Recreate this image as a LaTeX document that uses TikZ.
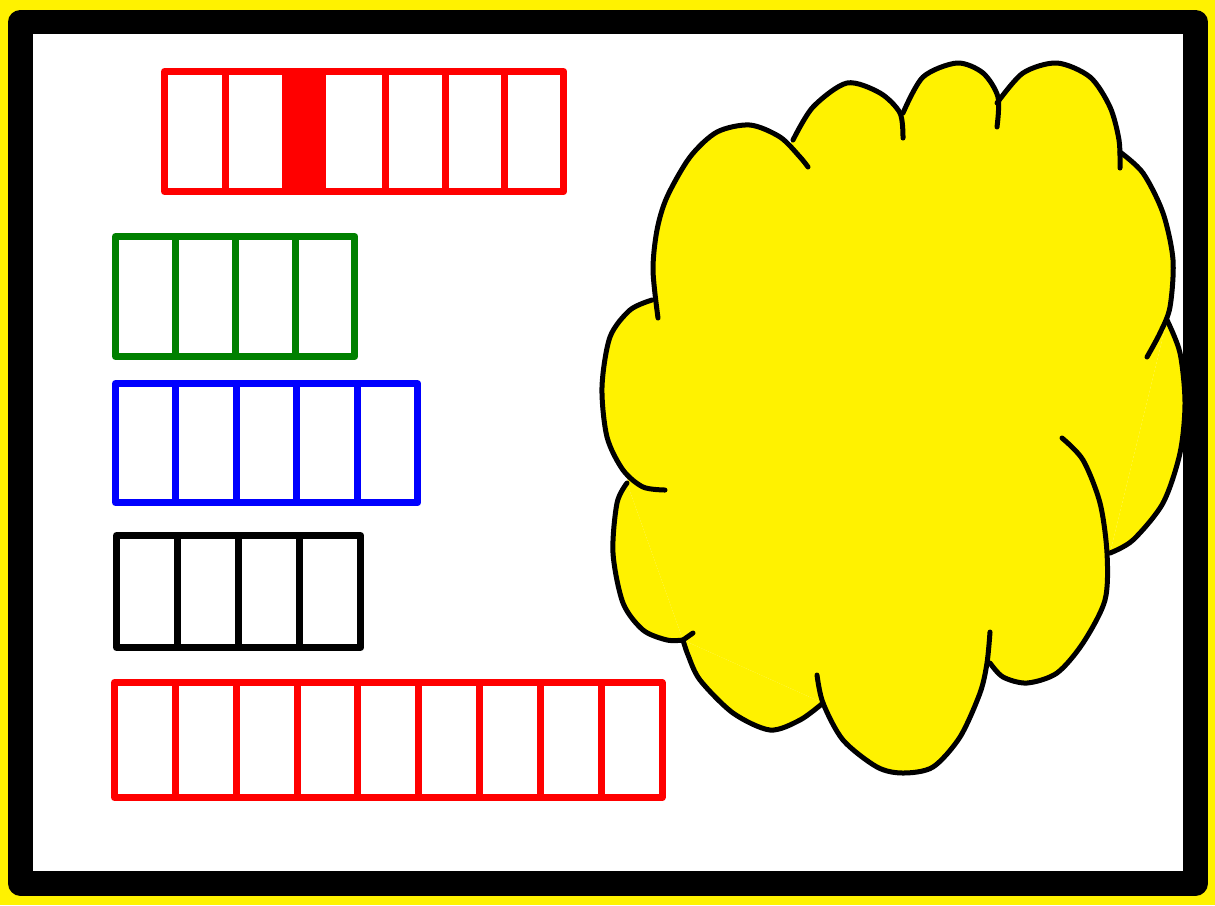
\documentclass[tikz,border=0pt]{standalone}
\usepackage{tikz}
\usetikzlibrary{positioning}

\begin{document}
\begin{tikzpicture}[x=0.01cm, y=-0.01cm,
  cell/.style={draw=#1, line width=0.07cm, line join=round, inner sep=0pt, outer sep=0pt, minimum width=6mm},
  lobe/.style={draw=black, line width=0.05cm, line cap=round}]
  \useasboundingbox (0,0) rectangle (1215,905);
  \fill[yellow] (0,0) rectangle (1215,905);
  \draw[fill=white, line width=2.45mm, line join=round] (20.5,22) rectangle (1195.5,883.5);

  % top row, one cell filled
  \node[cell=red, minimum width=6.05mm, minimum height=12mm, anchor=north west] (top1) at (164.5,71.5) {};
  \foreach \w [count=\i from 2, remember=\i as \j (initially 1)] in {6.0,3.7,6.3,6.0,5.9,5.95}
    \node[cell=red, minimum width=\w mm, minimum height=12mm, right=0pt of top\j] (top\i) {};
  \fill[red] (top3.north west) rectangle (top3.south east);

  % green row
  \node[cell=green!50!black, minimum width=5.98mm, minimum height=12mm, anchor=north west] (grn1) at (115.5,236.5) {};
  \foreach \i [remember=\i as \j (initially 1)] in {2,...,4}
    \node[cell=green!50!black, minimum width=5.98mm, minimum height=12mm, right=0pt of grn\j] (grn\i) {};

  % blue row
  \node[cell=blue, minimum width=6.04mm, minimum height=11.9mm, anchor=north west] (blu1) at (115.5,383.5) {};
  \foreach \i [remember=\i as \j (initially 1)] in {2,...,5}
    \node[cell=blue, minimum width=6.04mm, minimum height=11.9mm, right=0pt of blu\j] (blu\i) {};

  % black row
  \node[cell=black, minimum width=6.1mm, minimum height=11.2mm, anchor=north west] (blk1) at (116.5,535.5) {};
  \foreach \i [remember=\i as \j (initially 1)] in {2,...,4}
    \node[cell=black, minimum width=6.1mm, minimum height=11.2mm, right=0pt of blk\j] (blk\i) {};

  % bottom row
  \node[cell=red, minimum width=6.08mm, minimum height=11.5mm, anchor=north west] (bot1) at (114.5,682.5) {};
  \foreach \i [remember=\i as \j (initially 1)] in {2,...,9}
    \node[cell=red, minimum width=6.08mm, minimum height=11.5mm, right=0pt of bot\j] (bot\i) {};

  % cloud: fill first, then the lobe strokes
  \fill[yellow] (652,300) -- (793,140) -- (903,113) -- (997,103) -- (1120,152) -- (1167,320)
    -- (1110,553) -- (990,663) -- (823,703) -- (683,640) -- (627,483) -- cycle;
  \begin{scope}[fill=yellow]
    \fill plot[smooth] coordinates {(658,318) (653,270) (657,230) (667,197) (690,157) (717,132) (750,125) (780,137) (800,157) (808,167)} -- cycle;
    \fill plot[smooth] coordinates {(793,140) (813,107) (847,83) (880,93) (900,113) (903,138)} -- cycle;
    \fill plot[smooth] coordinates {(903,113) (923,77) (957,63) (983,73) (998,97) (997,127)} -- cycle;
    \fill plot[smooth] coordinates {(997,103) (1023,73) (1057,63) (1090,77) (1110,107) (1119,140) (1120,168)} -- cycle;
    \fill plot[smooth] coordinates {(1120,152) (1143,173) (1163,213) (1173,260) (1170,307) (1160,333) (1147,357)} -- cycle;
    \fill plot[smooth] coordinates {(1167,320) (1180,353) (1185,403) (1180,453) (1163,503) (1133,540) (1110,553)} -- cycle;
    \fill plot[smooth] coordinates {(1062,438) (1083,460) (1100,503) (1107,553) (1105,600) (1083,643) (1057,673) (1027,683) (1003,677) (990,663)} -- cycle;
    \fill plot[smooth] coordinates {(990,632) (987,663) (980,693) (960,737) (933,767) (903,773) (877,767) (843,740) (823,703) (817,675)} -- cycle;
    \fill plot[smooth] coordinates {(683,640) (688,655) (700,680) (733,713) (770,730) (800,720) (823,703)} -- cycle;
    \fill plot[smooth] coordinates {(627,483) (617,503) (613,553) (623,603) (643,630) (667,640) (683,640)} -- cycle;
    \fill plot[smooth] coordinates {(652,300) (630,310) (610,337) (602,387) (607,437) (623,470) (643,487) (665,490)} -- cycle;
  \end{scope}
  \draw[lobe] plot[smooth] coordinates {(658,318) (653,270) (657,230) (667,197) (690,157) (717,132) (750,125) (780,137) (800,157) (808,167)};
  \draw[lobe] plot[smooth] coordinates {(793,140) (813,107) (847,83) (880,93) (900,113) (903,138)};
  \draw[lobe] plot[smooth] coordinates {(903,113) (923,77) (957,63) (983,73) (998,97) (997,127)};
  \draw[lobe] plot[smooth] coordinates {(997,103) (1023,73) (1057,63) (1090,77) (1110,107) (1119,140) (1120,168)};
  \draw[lobe] plot[smooth] coordinates {(1120,152) (1143,173) (1163,213) (1173,260) (1170,307) (1160,333) (1147,357)};
  \draw[lobe] plot[smooth] coordinates {(1167,320) (1180,353) (1185,403) (1180,453) (1163,503) (1133,540) (1110,553)};
  \draw[lobe] plot[smooth] coordinates {(1062,438) (1083,460) (1100,503) (1107,553) (1105,600) (1083,643) (1057,673) (1027,683) (1003,677) (990,663)};
  \draw[lobe] plot[smooth] coordinates {(990,632) (987,663) (980,693) (960,737) (933,767) (903,773) (877,767) (843,740) (823,703) (817,675)};
  \draw[lobe] (693,633) -- plot[smooth] coordinates {(683,640) (688,655) (700,680) (733,713) (770,730) (800,720) (823,703)};
  \draw[lobe] plot[smooth] coordinates {(627,483) (617,503) (613,553) (623,603) (643,630) (667,640) (683,640)};
  \draw[lobe] plot[smooth] coordinates {(652,300) (630,310) (610,337) (602,387) (607,437) (623,470) (643,487) (665,490)};
\end{tikzpicture}
\end{document}
